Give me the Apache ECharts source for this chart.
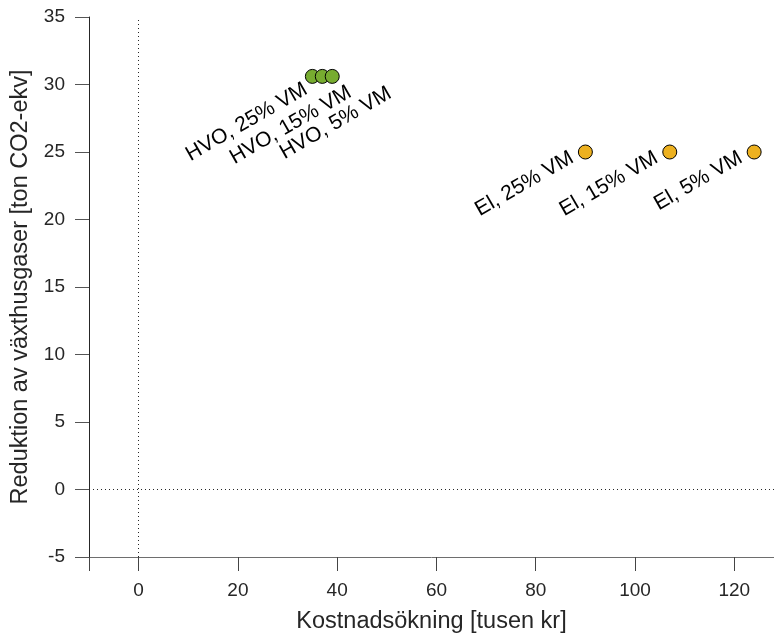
<!DOCTYPE html>
<html>
<head>
<meta charset="utf-8">
<script src="https://cdn.jsdelivr.net/npm/echarts@6/dist/echarts.min.js"></script>
<style>
  html, body { margin: 0; padding: 0; background: #fff; }
  #chart { width: 774px; height: 643px; }
</style>
</head>
<body>
<div id="chart"></div>
<script>
// Kostnad (tusen kr) och reduktion (ton CO2-ekv) per alternativ
const hvoNames = ['HVO, 25% VM', 'HVO, 15% VM', 'HVO, 5% VM'];
const hvoCost = [35, 37, 39];
const hvoReduction = [30.6, 30.6, 30.6];

const elNames = ['El, 25% VM', 'El, 15% VM', 'El, 5% VM'];
const elCost = [90, 107, 124];
const elReduction = [25, 25, 25];

const xTicks = [0, 20, 40, 60, 80, 100, 120];

const FONT = '"Liberation Sans", Arial, Helvetica, sans-serif';
const TEXT = '#262626';

// Etikettplacering (pixlar relativt markörens övre vänstra hörn)
const hvoLabelPos = [[1, 19], [35, 22], [65, 23]];
const elLabelPos = [[-6, 12], [-6, 12], [-6, 12]];

function points(names, xs, ys, labelPos) {
  return names.map((n, i) => ({
    name: n,
    value: [xs[i], ys[i]],
    label: { position: labelPos[i] }
  }));
}

const labelStyle = {
  show: true,
  formatter: p => p.name,
  rotate: 30,
  align: 'right',
  verticalAlign: 'middle',
  color: '#000',
  fontFamily: FONT,
  fontSize: 21
};

const chart = echarts.init(document.getElementById('chart'));
chart.setOption({
  animation: false,
  backgroundColor: '#fff',
  grid: { left: 89, right: 0, top: 17, bottom: 86, containLabel: false, outerBoundsMode: 'none' },
  xAxis: {
    type: 'value',
    min: -10,
    max: 128,
    splitNumber: 7,
    name: 'Kostnadsökning [tusen kr]',
    nameLocation: 'middle',
    nameGap: 53,
    nameTextStyle: { fontFamily: FONT, fontSize: 23.5, color: TEXT },
    axisLine: { onZero: false, lineStyle: { color: '#6e6e6e', width: 1 } },
    axisTick: { show: true, inside: false, length: 14, lineStyle: { color: '#444', width: 1 } },
    axisLabel: { customValues: xTicks, margin: 24, fontFamily: FONT, fontSize: 19, color: TEXT },
    splitLine: { show: false }
  },
  yAxis: {
    type: 'value',
    min: -5,
    max: 35,
    interval: 5,
    name: 'Reduktion av växthusgaser [ton CO2-ekv]',
    nameLocation: 'middle',
    nameGap: 55,
    nameTextStyle: { fontFamily: FONT, fontSize: 23.5, color: TEXT },
    axisLine: { onZero: false, lineStyle: { color: '#262626', width: 1 } },
    axisTick: { show: true, inside: false, length: 14, lineStyle: { color: '#555' } },
    axisLabel: { margin: 24, fontFamily: FONT, fontSize: 19, color: TEXT },
    splitLine: { show: false }
  },
  series: [
    {
      type: 'scatter',
      symbol: 'circle',
      symbolSize: 14,
      itemStyle: { color: '#77ac30', borderColor: '#000', borderWidth: 1, opacity: 1 },
      label: labelStyle,
      data: points(hvoNames, hvoCost, hvoReduction, hvoLabelPos),
      markLine: {
        silent: true,
        symbol: 'none',
        label: { show: false },
        lineStyle: { color: '#262626', type: [1, 3], width: 1 },
        data: [{ xAxis: 0 }, { yAxis: 0 }]
      },
      z: 3
    },
    {
      type: 'scatter',
      symbol: 'circle',
      symbolSize: 14,
      itemStyle: { color: '#edb120', borderColor: '#000', borderWidth: 1, opacity: 1 },
      label: labelStyle,
      data: points(elNames, elCost, elReduction, elLabelPos),
      z: 3
    }
  ]
});
</script>
</body>
</html>
